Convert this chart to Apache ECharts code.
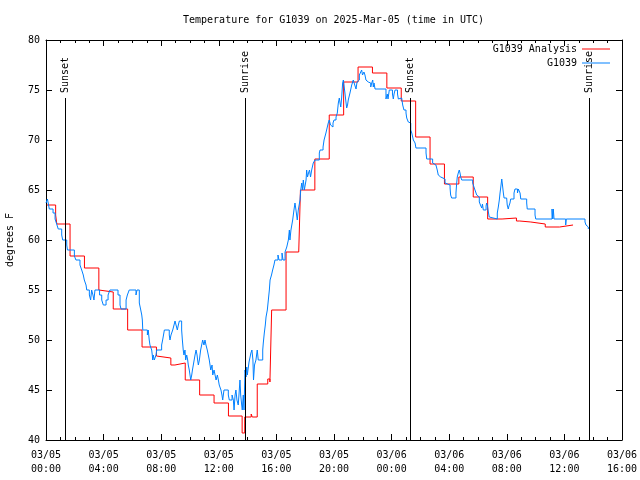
<!DOCTYPE html>
<html><head><meta charset="utf-8">
<script src="https://cdn.jsdelivr.net/npm/echarts@6/dist/echarts.min.js"></script>
<style>html,body{margin:0;padding:0;background:#fff}#c{width:640px;height:480px}</style>
</head><body><div id="c"></div>
<script>
// ---- data (hours since 2025-03-05 00:00 UTC, degrees F) ----
const obsTime = [0.00,0.10,0.23,0.49,0.63,0.74,0.85,1.09,1.16,1.44,1.49,1.97,2.08,2.36,2.48,2.59,2.66,2.78,2.83,3.01,3.10,3.17,3.26,3.33,3.40,3.72,3.87,3.98,4.17,4.31,4.44,5.00,5.14,5.21,5.56,5.65,5.78,6.25,6.32,6.48,6.58,6.65,6.69,6.72,7.04,7.10,7.17,7.22,7.34,7.38,7.41,7.45,7.52,7.64,7.69,8.03,8.10,8.16,8.22,8.56,8.61,8.68,8.80,8.89,8.96,9.03,9.12,9.19,9.26,9.42,9.47,9.53,9.58,9.65,9.70,9.77,9.84,9.88,9.95,10.00,10.05,10.12,10.17,10.23,10.35,10.42,10.49,10.53,10.58,10.65,10.74,10.81,10.88,10.97,11.04,11.11,11.20,11.27,11.34,11.39,11.44,11.53,11.58,11.67,11.74,11.81,11.90,11.97,12.03,12.15,12.22,12.27,12.36,12.66,12.73,12.92,13.01,13.06,13.13,13.19,13.26,13.35,13.40,13.47,13.52,13.59,13.63,13.70,13.75,13.82,13.89,13.94,13.98,14.10,14.23,14.30,14.37,14.41,14.48,14.58,14.67,14.74,15.05,15.09,15.16,15.23,15.28,15.37,15.44,15.51,15.56,15.66,15.74,15.83,15.90,16.11,16.18,16.39,16.46,16.60,16.72,16.83,16.90,16.94,17.01,17.13,17.22,17.29,17.36,17.45,17.52,17.64,17.69,17.76,17.81,17.87,17.94,18.06,18.10,18.16,18.23,18.30,18.37,18.45,18.56,18.68,18.98,19.03,19.24,19.31,19.44,19.52,19.60,19.67,19.76,19.84,19.93,20.00,20.14,20.23,20.30,20.37,20.42,20.47,20.53,20.60,20.65,20.69,20.76,20.83,20.88,20.94,20.99,21.11,21.23,21.34,21.42,21.53,21.60,21.69,21.76,21.81,21.88,21.92,21.98,22.04,22.08,22.15,22.22,22.29,22.38,22.45,22.50,22.55,22.62,22.69,22.73,22.78,22.85,23.61,23.70,23.75,23.84,24.06,24.12,24.17,24.24,24.41,24.47,24.58,24.70,24.77,24.86,25.00,25.05,25.16,25.28,25.33,25.40,25.51,25.63,25.69,26.39,26.44,26.85,26.90,27.08,27.17,27.24,27.31,27.41,27.71,27.83,28.06,28.10,28.17,28.47,28.52,28.56,28.63,28.70,28.75,28.80,28.87,29.63,29.72,29.79,29.91,30.00,30.09,30.17,30.26,30.31,30.37,30.56,30.60,30.66,30.72,30.78,30.83,31.34,31.41,31.48,31.53,31.60,31.65,31.70,31.76,31.81,31.99,32.03,32.10,32.15,32.22,32.27,32.50,32.57,32.74,32.80,32.92,32.97,33.38,33.42,33.96,34.01,35.14,35.19,35.23,35.28,36.09,36.13,37.43,37.50,37.59,37.66];
const obsTemp = [63.7,64.1,63.1,62.7,62.1,61.6,61.1,60.5,60.0,59.5,59.0,58.4,58.0,57.5,57.0,56.5,56.0,55.5,55.0,54.5,54.0,55.0,54.5,54.0,55.0,54.5,54.0,53.5,54.0,54.5,55.0,54.5,53.5,53.1,54.0,54.5,55.0,54.5,55.0,53.7,53.0,52.5,52.0,51.0,50.5,51.0,50.0,49.5,49.0,48.5,48.0,48.5,48.0,48.5,49.0,49.5,50.0,50.5,51.0,50.5,50.0,50.5,51.0,51.5,51.9,51.5,51.0,51.5,51.9,51.0,50.0,49.0,48.5,49.0,48.0,48.5,48.0,47.5,47.0,46.5,46.0,46.5,47.0,47.5,48.5,49.0,48.5,48.0,47.5,48.0,49.0,49.5,50.0,49.5,50.0,49.5,49.0,48.5,48.0,47.5,47.0,47.5,46.5,47.0,46.5,46.0,46.5,46.0,45.5,45.0,44.5,44.0,45.0,44.5,44.0,44.5,44.0,43.0,44.5,45.0,44.0,43.5,44.5,46.0,44.5,43.5,43.0,44.5,43.0,47.0,46.3,47.3,46.5,47.8,48.7,49.0,48.0,46.0,47.5,48.0,49.0,48.0,49.0,49.7,50.7,51.5,52.3,53.0,54.0,55.0,56.0,56.5,57.0,57.5,58.0,58.5,58.0,58.7,58.0,58.8,59.3,60.0,61.0,60.0,61.0,62.0,63.0,63.7,63.0,62.0,63.0,64.0,65.0,65.7,65.0,66.0,65.0,66.0,67.0,66.3,66.7,67.0,66.3,67.0,67.7,68.0,68.7,69.0,69.3,70.0,70.7,71.2,71.7,72.0,71.5,71.3,71.7,72.0,72.3,72.7,73.7,74.2,73.7,73.3,74.2,75.7,76.0,75.5,74.7,73.8,73.2,73.5,74.0,74.7,75.5,76.0,75.6,75.1,75.8,76.0,76.5,76.7,76.4,77.0,76.5,76.3,76.8,76.5,76.0,75.8,75.7,76.0,75.7,75.3,75.7,76.0,75.3,75.7,75.1,74.1,74.6,74.1,75.0,74.6,74.1,74.6,75.0,74.6,74.1,74.2,74.0,73.5,73.0,72.7,72.2,71.8,71.7,71.0,70.7,70.0,69.7,69.2,68.7,68.1,67.7,67.5,67.3,67.0,66.5,66.3,66.1,65.7,65.5,65.2,64.5,64.2,64.7,65.7,66.3,66.7,67.0,66.7,66.3,66.0,65.7,65.3,65.0,64.5,64.3,63.8,63.5,63.2,63.6,63.0,63.4,63.7,63.4,62.8,62.3,62.1,62.7,63.3,64.0,64.7,65.5,66.1,65.5,64.7,64.2,64.0,63.5,63.1,63.4,63.7,64.1,64.7,65.1,64.7,65.1,64.7,64.1,63.7,63.1,62.5,62.1,63.1,62.1,63.1,62.1,61.5,62.1,61.8,61.5,61.3,61.1];

const anaTime = [0.05,0.67,0.75,1.67,2.67,3.67,3.75,4.67,5.67,6.67,7.67,7.80,8.67,8.95,9.67,10.67,11.67,12.67,13.62,13.80,14.25,14.32,14.67,15.40,15.55,15.67,16.67,17.55,17.67,18.67,19.67,20.67,21.67,22.67,23.67,24.67,25.67,26.67,27.67,28.67,29.67,30.67,31.67,32.67,32.90,33.67,34.67,35.67,36.60];
const anaTemp = [63.5,62.5,61.6,58.4,57.2,55.0,54.8,53.1,51.0,49.3,48.4,48.2,47.5,47.7,46.0,44.5,43.7,42.4,40.7,42.3,42.6,42.3,45.6,46.1,45.8,53.0,58.8,58.6,65.0,68.1,72.5,75.8,77.3,76.7,75.2,73.9,70.3,67.6,65.6,66.3,64.3,62.1,62.2,61.9,61.8,61.6,61.3,61.5,61.5];

const sunTime = [1.32, 13.82, 25.30, 37.72];
const sunLabel = ['Sunset', 'Sunrise', 'Sunset', 'Sunrise'];

const xTickLabels = ['03/05\n00:00','03/05\n04:00','03/05\n08:00','03/05\n12:00','03/05\n16:00','03/05\n20:00','03/06\n00:00','03/06\n04:00','03/06\n08:00','03/06\n12:00','03/06\n16:00'];
const yTicks = [40,45,50,55,60,65,70,75,80];

const seriesNames = ['G1039 Analysis', 'G1039'];
const titleText = 'Temperature for G1039 on 2025-Mar-05 (time in UTC)';
const yName = 'degrees F';

// ---- chart ----
const FONT = 'DejaVu Sans Mono';
const txt = {fontFamily: FONT, fontSize: 10, color: '#000'};
const pair = (t, v) => t.map((x, i) => [x, v[i]]);

const sunLines = [];
sunTime.forEach((t, i) => {
  sunLines.push([{coord: [t, 40]}, {coord: [t, 74.2]}]);
  sunLines.push([
    {coord: [t, 74.7], lineStyle: {color: 'rgba(0,0,0,0)', width: 0},
     label: {show: true, formatter: sunLabel[i], position: 'insideStart', distance: 0, ...txt}},
    {coord: [t, 79.8], lineStyle: {color: 'rgba(0,0,0,0)', width: 0},
     label: {show: true, formatter: sunLabel[i], position: 'insideStart', distance: 0, ...txt}}
  ]);
});

const xBase = {
  type: 'value', min: 0, max: 40, interval: 4,
  axisLine: {show: true, onZero: false, lineStyle: {color: '#000', width: 1}},
  axisTick: {show: true, inside: true, length: 6, lineStyle: {color: '#000'}},
  minorTick: {show: true, splitNumber: 4, length: 3, lineStyle: {color: '#000'}},
  splitLine: {show: false}, minorSplitLine: {show: false}
};
const yBase = {
  type: 'value', min: 40, max: 80, interval: 5,
  axisLine: {show: true, onZero: false, lineStyle: {color: '#000', width: 1}},
  axisTick: {show: true, inside: true, length: 6, lineStyle: {color: '#000'}},
  splitLine: {show: false}
};

const chart = echarts.init(document.getElementById('c'), null, {renderer: 'canvas'});
chart.setOption({
  animation: false,
  backgroundColor: '#fff',
  title: {text: titleText, left: 178, top: 10, textStyle: {...txt, fontWeight: 'normal'}},
  grid: {left: 46, right: 18, top: 40, bottom: 40, containLabel: false, outerBoundsMode: 'none'},
  legend: [
    {data: [seriesNames[0]], right: 25, top: 39, align: 'right', icon: 'rect', itemWidth: 28, itemHeight: 1, itemGap: 0, textStyle: txt, selectedMode: false},
    {data: [seriesNames[1]], right: 25, top: 53, align: 'right', icon: 'rect', itemWidth: 28, itemHeight: 1, itemGap: 0, textStyle: txt, selectedMode: false}
  ],
  xAxis: [
    {...xBase, position: 'bottom',
     axisLabel: {show: true, margin: 8, lineHeight: 14, ...txt, formatter: v => xTickLabels[Math.round(v / 4)]}},
    {...xBase, position: 'top', axisLabel: {show: false}}
  ],
  yAxis: [
    {...yBase, position: 'left', name: yName, nameLocation: 'middle', nameGap: 31, nameTextStyle: txt,
     axisLabel: {show: true, margin: 6, ...txt, formatter: v => yTicks.includes(v) ? String(v) : ''}},
    {...yBase, position: 'right', axisLabel: {show: false}}
  ],
  series: [
    {name: seriesNames[0], type: 'line', step: 'end', showSymbol: false, symbol: 'none',
     data: pair(anaTime, anaTemp), color: '#ff0000', lineStyle: {color: '#ff0000', width: 1}, z: 2,
     markLine: {silent: true, symbol: ['none', 'none'], animation: false,
       lineStyle: {color: '#000', width: 1, type: 'solid'}, label: {show: false}, data: sunLines}},
    {name: seriesNames[1], type: 'line', step: 'end', showSymbol: false, symbol: 'none',
     data: pair(obsTime, obsTemp), color: '#0080ff', lineStyle: {color: '#0080ff', width: 1}, z: 3}
  ]
});
</script></body></html>
